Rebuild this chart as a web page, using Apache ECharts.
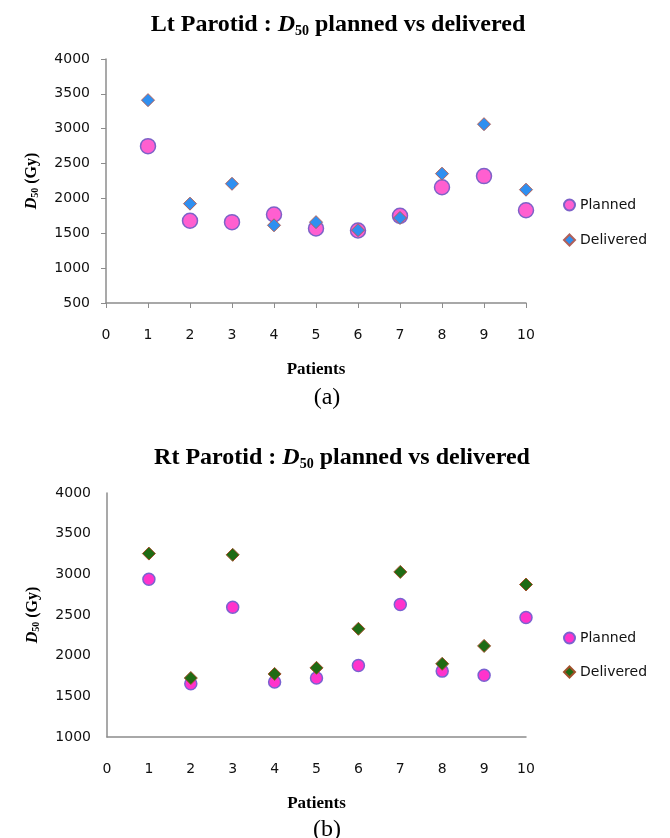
<!DOCTYPE html>
<html>
<head>
<meta charset="utf-8">
<script src="https://cdn.jsdelivr.net/npm/echarts@6/dist/echarts.min.js"></script>
<style>html,body{margin:0;padding:0;background:#fff;}#c{width:670px;height:838px;}</style>
</head>
<body>
<div id="c"></div>
<script>
const patients = [1, 2, 3, 4, 5, 6, 7, 8, 9, 10];
const ltPlanned = [2750, 1680, 1660, 1770, 1570, 1540, 1750, 2160, 2320, 1830];
const ltDelivered = [3410, 1925, 2210, 1615, 1660, 1545, 1720, 2355, 3065, 2125];
const rtPlanned = [2940, 1655, 2595, 1675, 1725, 1880, 2630, 1810, 1760, 2470];
const rtDelivered = [3255, 1725, 3240, 1775, 1850, 2330, 3030, 1900, 2120, 2875];
const xTicks = [0, 1, 2, 3, 4, 5, 6, 7, 8, 9, 10];
const ltYTicks = [500, 1000, 1500, 2000, 2500, 3000, 3500, 4000];
const rtYTicks = [1000, 1500, 2000, 2500, 3000, 3500, 4000];

const pair = (ys) => patients.map((p, i) => [p, ys[i]]);
const serif = '"Liberation Serif", "DejaVu Serif", serif';
const sans = '"DejaVu Sans", Verdana, sans-serif';

const titleRich = {
  b: { fontFamily: serif, fontWeight: 'bold', fontSize: 24, color: '#000' },
  i: { fontFamily: serif, fontWeight: 'bold', fontStyle: 'italic', fontSize: 24, color: '#000' },
  s: { fontFamily: serif, fontWeight: 'bold', fontSize: 14, color: '#000', padding: [12, 0, 0, 0] }
};
const yNameRich = {
  i: { fontFamily: serif, fontWeight: 'bold', fontStyle: 'italic', fontSize: 16, color: '#000' },
  s: { fontFamily: serif, fontWeight: 'bold', fontSize: 10, color: '#000', padding: [7, 0, 0, 0] },
  b: { fontFamily: serif, fontWeight: 'bold', fontSize: 16, color: '#000' }
};

function xAxis(gi, ticks) {
  return {
    type: 'value', gridIndex: gi, min: xTicks[0], max: xTicks[xTicks.length - 1], interval: 1,
    name: 'Patients', nameLocation: 'middle', nameGap: 58,
    nameTextStyle: { fontFamily: serif, fontWeight: 'bold', fontSize: 17, color: '#000' },
    axisLine: { show: true, lineStyle: { color: '#8c8c8c', width: 1.5 } },
    axisTick: { show: ticks, length: 5, lineStyle: { color: '#8c8c8c' } },
    axisLabel: { fontFamily: sans, fontSize: 14, color: '#111', margin: 25, formatter: v => String(v) },
    splitLine: { show: false }
  };
}
function yAxis(gi, t, ticks) {
  return {
    type: 'value', gridIndex: gi, min: t[0], max: t[t.length - 1], interval: 500,
    name: '{i|D}{s|50}{b| (Gy)}', nameLocation: 'middle', nameGap: 66, nameRotate: 90,
    nameTextStyle: { rich: yNameRich },
    axisLine: { show: true, lineStyle: { color: '#8c8c8c', width: 1.5 } },
    axisTick: { show: ticks, length: 5, lineStyle: { color: '#8c8c8c' } },
    axisLabel: { fontFamily: sans, fontSize: 14, color: '#111', margin: 16, formatter: v => String(v) },
    splitLine: { show: false }
  };
}

const chart = echarts.init(document.getElementById('c'), null, { renderer: 'canvas' });
chart.setOption({
  animation: false,
  backgroundColor: '#fff',
  title: [
    { text: '{b|Lt Parotid : }{i|D}{s|50}{b| planned vs delivered}', left: 333, top: 7, textAlign: 'center', textStyle: { rich: titleRich } },
    { text: '{b|Rt Parotid : }{i|D}{s|50}{b| planned vs delivered}', left: 337, top: 440, textAlign: 'center', textStyle: { rich: titleRich } },
    { text: '(a)', left: 322, top: 381, textAlign: 'center', textStyle: { fontFamily: serif, fontWeight: 'normal', fontSize: 24, color: '#000' } },
    { text: '(b)', left: 322, top: 813, textAlign: 'center', textStyle: { fontFamily: serif, fontWeight: 'normal', fontSize: 24, color: '#000' } }
  ],
  grid: [
    { left: 106, top: 59, width: 420, height: 244 },
    { left: 107, top: 493, width: 419, height: 244 }
  ],
  xAxis: [xAxis(0, true), xAxis(1, false)],
  yAxis: [yAxis(0, ltYTicks, true), yAxis(1, rtYTicks, false)],
  legend: [
    { data: ['Lt Planned', 'Lt Delivered'], orient: 'vertical', left: 558, top: 193, itemWidth: 11, itemHeight: 11, itemGap: 21,
      formatter: n => n.replace('Lt ', ''), textStyle: { fontFamily: sans, fontSize: 14, color: '#111' } },
    { data: ['Rt Planned', 'Rt Delivered'], orient: 'vertical', left: 558, top: 626, itemWidth: 11, itemHeight: 11, itemGap: 20,
      formatter: n => n.replace('Rt ', ''), textStyle: { fontFamily: sans, fontSize: 14, color: '#111' } }
  ],
  series: [
    { name: 'Lt Planned', type: 'scatter', xAxisIndex: 0, yAxisIndex: 0, data: pair(ltPlanned), symbol: 'circle', symbolSize: 15,
      itemStyle: { color: '#ff5fd0', borderColor: '#7d62c8', borderWidth: 1.5, opacity: 1 } },
    { name: 'Lt Delivered', type: 'scatter', xAxisIndex: 0, yAxisIndex: 0, data: pair(ltDelivered), symbol: 'diamond', symbolSize: 13,
      itemStyle: { color: '#2f8ff0', borderColor: '#b0605a', borderWidth: 1, opacity: 1 } },
    { name: 'Rt Planned', type: 'scatter', xAxisIndex: 1, yAxisIndex: 1, data: pair(rtPlanned), symbol: 'circle', symbolSize: 12,
      itemStyle: { color: '#ff33cc', borderColor: '#7a62d0', borderWidth: 1.5, opacity: 1 } },
    { name: 'Rt Delivered', type: 'scatter', xAxisIndex: 1, yAxisIndex: 1, data: pair(rtDelivered), symbol: 'diamond', symbolSize: 13,
      itemStyle: { color: '#1f6b14', borderColor: '#a0502a', borderWidth: 1, opacity: 1 } }
  ]
});
</script>
</body>
</html>
